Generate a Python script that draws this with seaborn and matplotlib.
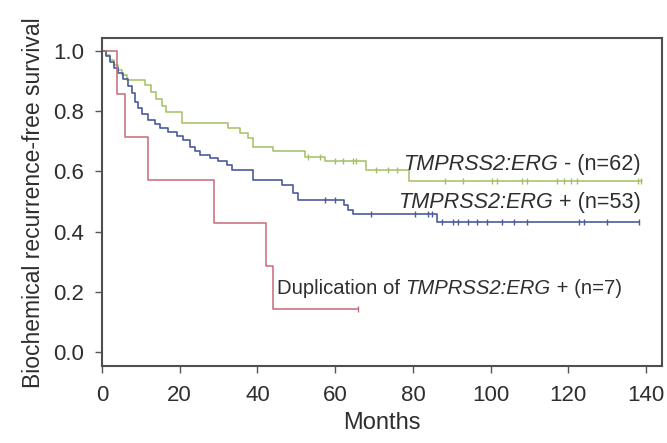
import numpy as np
import pandas as pd
import matplotlib
matplotlib.use("Agg")
import matplotlib.pyplot as plt
import seaborn as sns

# ---- data ----
# TMPRSS2:ERG - (n=62): step times (months) and survival after each step
neg_times = [0, 1.0, 2.0, 3.0, 4.0, 5.2, 6.4, 11.1, 12.6, 14.0, 15.4, 16.5, 20.5,
             32.5, 35.5, 37.5, 38.9, 44.1, 52.2, 57.4, 67.9, 79.0, 139.0]
neg_surv = [1.0, 0.984, 0.968, 0.952, 0.935, 0.919, 0.903, 0.887, 0.863, 0.839, 0.815,
            0.798, 0.760, 0.743, 0.727, 0.711, 0.682, 0.666, 0.647, 0.633, 0.605, 0.567, 0.567]
neg_censor = [53.0, 56.0, 60.0, 62.0, 64.7, 65.3, 70.5, 73.5, 76.0, 88.3, 93.0, 100.3,
              101.6, 108.1, 109.4, 117.1, 118.8, 120.6, 122.3, 137.8, 138.7]

# TMPRSS2:ERG + (n=53)
pos_times = [0, 1.0, 2.0, 3.0, 4.2, 5.5, 6.8, 7.6, 8.5, 9.3, 10.2, 11.9, 13.6, 14.9,
             17.1, 19.2, 20.9, 22.6, 23.9, 25.2, 27.8, 29.9, 32.1, 33.4, 38.9, 46.2,
             49.2, 50.5, 62.3, 63.3, 64.7, 86.2, 138.3]
pos_surv = [1.0, 0.981, 0.962, 0.943, 0.925, 0.906, 0.884, 0.859, 0.830, 0.811, 0.790,
            0.771, 0.756, 0.743, 0.730, 0.716, 0.705, 0.682, 0.666, 0.655, 0.644, 0.633,
            0.622, 0.605, 0.572, 0.556, 0.528, 0.506, 0.490, 0.473, 0.457, 0.433, 0.433]
pos_censor = [57.4, 60.0, 69.2, 80.5, 84.0, 84.8, 87.4, 90.4, 91.7, 94.3, 96.5, 99.0,
              102.9, 105.9, 109.4, 122.7, 124.0, 130.0, 138.2]

# Duplication of TMPRSS2:ERG + (n=7)
dup_times = [0, 3.8, 5.9, 11.9, 28.8, 42.1, 43.9, 66.0]
dup_surv = [1.0, 6/7, 5/7, 4/7, 3/7, 2/7, 1/7, 1/7]
dup_censor = [66.0]

gene = "TMPRSS2:ERG"
label_neg = (" - (n=62)",)
label_pos = (" + (n=53)",)
label_dup = ("Duplication of ", " + (n=7)")
x_ticks = [0, 20, 40, 60, 80, 100, 120, 140]
y_ticks = [0.0, 0.2, 0.4, 0.6, 0.8, 1.0]

# ---- styling ----
sns.set_style("ticks")
plt.rcParams["font.family"] = ["Liberation Sans", "DejaVu Sans"]
txt_col = "#2e2e2e"
spine_col = "#4f4f4f"
colors = {"neg": "#a3bf63", "pos": "#4b5b9b", "dup": "#c46a77"}

fig = plt.figure(figsize=(6.67, 4.43), dpi=100)
ax = fig.add_axes([0.1529, 0.1738, 0.8396, 0.7393])

def surv_at(times, surv, t):
    idx = np.searchsorted(np.asarray(times), t, side="right") - 1
    return np.asarray(surv)[idx]

series = [
    ("neg", neg_times, neg_surv, neg_censor, 1.1),
    ("pos", pos_times, pos_surv, pos_censor, 1.2),
    ("dup", dup_times, dup_surv, dup_censor, 1.1),
]
for key, t, s, c, lw in series:
    df = pd.DataFrame({"t": t, "s": s})
    sns.lineplot(data=df, x="t", y="s", ax=ax, color=colors[key], lw=lw,
                 drawstyle="steps-post", estimator=None, sort=False, legend=False)
    cdf = pd.DataFrame({"t": c, "s": surv_at(t, s, c)})
    sns.scatterplot(data=cdf, x="t", y="s", ax=ax, marker="|", s=22,
                    color=colors[key], linewidth=1.0, legend=False, zorder=3)

ax.set_xlim(0, 144.1)
ax.set_ylim(-0.045, 1.04)
ax.set_xticks(x_ticks)
ax.set_xticklabels([str(v) for v in x_ticks])
ax.set_yticks(y_ticks)
ax.set_yticklabels([f"{v:.1f}" for v in y_ticks])

for sp in ax.spines.values():
    sp.set_visible(True)
    sp.set_color(spine_col)
    sp.set_linewidth(1.5)

ax.tick_params(axis="both", direction="out", length=5, width=1.0, color="#555555",
               labelsize=16, labelcolor=txt_col)
ax.tick_params(axis="x", pad=9)
ax.tick_params(axis="y", pad=8)

ax.set_xlabel("Months", fontsize=17, color=txt_col, labelpad=4)
ax.set_ylabel("Biochemical recurrence-free survival", fontsize=16.5, color=txt_col, labelpad=6)

fs = 15.6
# right-aligned labels: tail text first, then italic gene name to its left
for (tail,), yv in [(label_neg, 0.622), (label_pos, 0.496)]:
    t_tail = ax.text(138.7, yv, tail, ha="right", va="center", fontsize=fs, color=txt_col)
    ax.annotate(gene, xy=(0, 0), xycoords=t_tail, ha="right", va="bottom",
                fontsize=fs, color=txt_col, fontstyle="italic")

fs2 = 14.6
t_head = ax.text(45.0, 0.212, label_dup[0], ha="left", va="center", fontsize=fs2, color=txt_col)
t_gene = ax.annotate(gene, xy=(1, 0), xycoords=t_head, ha="left", va="bottom",
                     fontsize=fs2, color=txt_col, fontstyle="italic")
ax.annotate(label_dup[1], xy=(1, 0), xycoords=t_gene, ha="left", va="bottom",
            fontsize=fs2, color=txt_col)

fig.savefig("out.png", dpi=100)
